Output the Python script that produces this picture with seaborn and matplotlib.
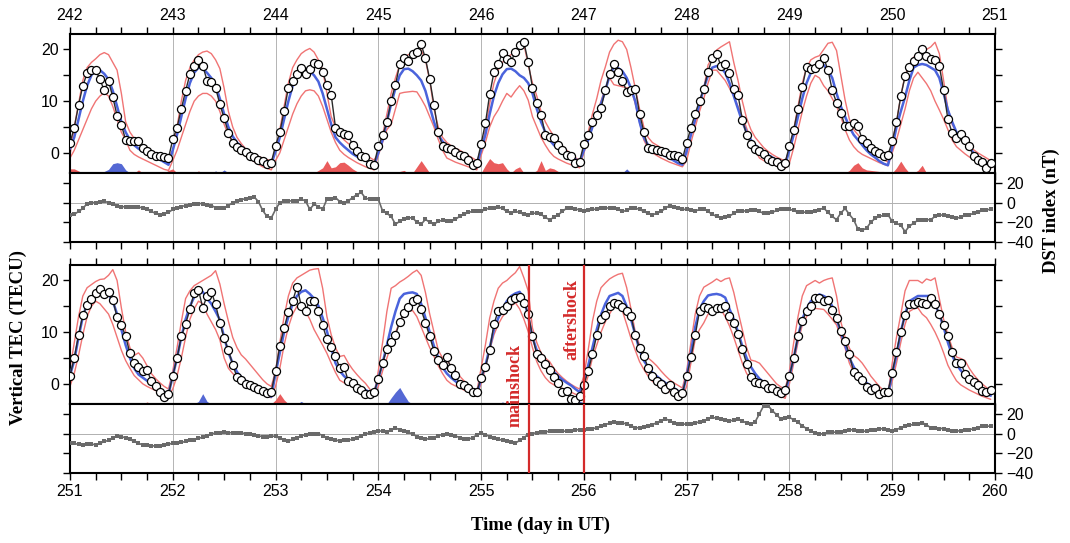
import numpy as np
import pandas as pd
import matplotlib
matplotlib.use("Agg")
import matplotlib.pyplot as plt
import seaborn as sns
from matplotlib.ticker import MultipleLocator

sns.set_theme(style="ticks")
plt.rcParams["font.family"] = ["Liberation Sans", "DejaVu Sans"]
plt.rcParams.update({"text.color": "black", "axes.labelcolor": "black",
                     "xtick.color": "black", "ytick.color": "black"})

hours = list(range(24))
top_days = list(range(242, 251))
bot_days = list(range(251, 260))

# vertical TEC (TECU), hourly, one row per day
top_obs = [
    1.9, 4.9, 9.2, 13.0, 15.4, 16.0, 16.0, 14.2, 12.1, 13.9, 10.8, 7.2, 5.4, 2.5, 2.2, 2.2, 2.2, 0.9, 0.3, -0.2, -0.6, -0.7, -0.8, -1.0,
    2.6, 4.9, 8.5, 12.0, 15.2, 16.8, 17.9, 16.9, 14.0, 13.7, 12.6, 9.4, 6.7, 3.9, 2.0, 1.2, 0.6, 0.1, -0.6, -0.8, -1.3, -1.5, -2.1, -1.9,
    1.4, 4.0, 8.1, 12.6, 13.9, 15.2, 16.5, 15.2, 16.3, 17.4, 17.2, 15.7, 13.1, 11.2, 4.9, 4.0, 3.7, 3.4, 1.5, 0.4, -0.6, -0.8, -2.2, -2.4,
    1.3, 3.4, 5.9, 10.1, 13.1, 17.2, 18.3, 17.8, 19.2, 19.6, 21.0, 18.3, 14.2, 9.3, 4.0, 1.3, 1.0, 0.8, 0.2, -0.4, -0.7, -1.3, -2.3, -2.0,
    1.7, 5.7, 11.3, 15.6, 17.2, 19.4, 18.2, 17.6, 19.6, 20.8, 21.4, 17.6, 12.6, 9.6, 7.4, 3.5, 3.0, 2.8, 1.5, 0.6, -0.4, -0.6, -2.0, -1.7,
    1.7, 3.5, 6.0, 7.3, 8.7, 12.1, 15.3, 17.1, 15.6, 14.0, 11.8, 12.2, 12.4, 7.6, 4.1, 0.9, 0.7, 0.6, 0.4, 0.1, -0.4, -0.5, -0.7, -1.2,
    1.9, 4.9, 7.6, 10.1, 12.4, 15.7, 18.4, 19.2, 16.8, 17.2, 15.4, 12.3, 11.2, 6.4, 3.5, 1.7, 0.8, 0.3, -0.3, -1.2, -1.5, -1.8, -2.6, -1.9,
    1.4, 4.5, 8.5, 12.7, 16.7, 16.2, 16.5, 17.2, 18.4, 16.0, 12.1, 9.7, 7.8, 5.1, 5.2, 5.8, 5.1, 2.6, 1.9, 0.9, 0.3, -0.1, -0.7, -0.4,
    2.2, 5.9, 11.0, 14.8, 16.7, 17.8, 18.7, 20.1, 18.7, 18.2, 17.9, 16.8, 12.1, 6.5, 3.8, 2.8, 3.7, 2.5, 1.3, -0.7, -1.3, -1.7, -2.9, -2.0,
]
top_med = [
    0.8, 3.0, 6.5, 10.0, 13.0, 15.0, 16.2, 16.0, 15.3, 14.2, 12.0, 9.0, 6.0, 4.0, 2.5, 1.5, 0.8, 0.3, -0.2, -0.5, -0.9, -1.3, -1.8, -2.3,
    0.5, 3.5, 7.0, 10.5, 13.5, 15.5, 16.5, 16.3, 15.5, 14.5, 13.0, 10.5, 7.5, 5.0, 3.2, 2.0, 1.2, 0.6, 0.0, -0.5, -1.0, -1.4, -1.8, -2.2,
    0.3, 3.0, 6.5, 10.0, 13.0, 15.0, 16.0, 16.3, 15.8, 15.0, 13.8, 11.5, 8.5, 5.5, 3.0, 2.0, 1.2, 0.5, -0.2, -0.7, -1.1, -1.5, -1.9, -2.3,
    0.0, 2.5, 6.0, 9.5, 12.5, 15.0, 16.2, 16.3, 15.8, 15.0, 14.0, 12.0, 9.0, 6.0, 3.5, 2.2, 1.4, 0.8, 0.2, -0.3, -0.8, -1.3, -1.8, -2.2,
    0.5, 3.5, 7.5, 11.0, 13.5, 15.2, 16.2, 16.3, 15.8, 15.0, 14.5, 13.5, 11.5, 8.5, 6.0, 4.0, 2.5, 1.5, 0.8, 0.2, -0.3, -0.7, -1.2, -1.8,
    0.5, 2.5, 5.0, 7.5, 9.5, 12.0, 15.0, 16.6, 16.4, 15.8, 14.5, 12.5, 10.0, 6.0, 3.0, 1.5, 0.8, 0.3, -0.2, -0.6, -1.0, -1.5, -2.0, -2.3,
    0.3, 3.5, 6.5, 9.5, 12.5, 15.0, 16.5, 16.8, 16.5, 15.5, 13.5, 11.0, 8.5, 6.0, 4.0, 2.5, 1.5, 0.8, 0.2, -0.4, -0.9, -1.4, -1.9, -2.3,
    0.5, 3.5, 7.0, 10.5, 13.5, 15.5, 16.8, 17.2, 17.0, 16.0, 14.5, 11.5, 9.0, 7.0, 5.0, 3.5, 2.5, 1.5, 0.5, -0.3, -0.9, -1.6, -2.1, -2.4,
    1.0, 5.0, 8.0, 10.8, 14.0, 16.5, 17.0, 17.2, 17.0, 16.5, 16.0, 14.5, 11.5, 8.3, 6.0, 4.0, 3.0, 2.0, 1.0, 0.0, -0.7, -1.4, -2.0, -2.6,
]
top_upper = [
    -0.5, 5.0, 9.5, 14.0, 16.5, 17.5, 18.2, 19.0, 19.4, 19.0, 17.5, 16.0, 11.5, 6.0, 4.0, 2.8, 2.0, 1.2, 0.8, 0.4, 0.0, -0.3, -0.6, -0.9,
    0.5, 5.0, 10.0, 14.0, 16.5, 18.0, 19.0, 19.5, 19.7, 19.2, 18.0, 16.3, 12.5, 8.0, 5.0, 3.0, 1.8, 0.8, 0.0, -0.4, -0.7, -1.0, -1.3, -1.5,
    0.0, 4.5, 9.0, 13.5, 16.5, 18.0, 19.2, 19.8, 20.2, 19.5, 18.0, 16.0, 11.5, 7.0, 5.0, 3.5, 2.5, 1.8, 1.2, 0.6, 0.1, -0.4, -0.9, -1.4,
    0.0, 3.5, 7.5, 11.5, 14.5, 17.0, 18.5, 19.0, 19.2, 19.5, 19.9, 18.0, 14.0, 8.5, 5.0, 3.0, 2.0, 1.4, 0.9, 0.5, 0.0, -0.5, -1.0, -1.5,
    0.0, 4.5, 9.5, 13.5, 16.0, 17.5, 18.5, 19.0, 19.5, 20.5, 21.0, 17.0, 13.5, 11.0, 8.0, 6.0, 4.5, 3.2, 2.2, 1.3, 0.5, -0.2, -0.9, -1.5,
    0.5, 4.0, 7.5, 10.5, 14.0, 16.6, 19.5, 21.0, 21.8, 21.5, 20.0, 16.5, 12.5, 8.5, 5.0, 3.0, 2.0, 1.5, 1.0, 0.5, 0.0, -0.5, -1.0, -1.5,
    0.5, 3.5, 6.0, 8.5, 12.5, 17.0, 18.5, 19.9, 20.5, 21.0, 21.5, 17.5, 14.0, 10.0, 6.7, 4.5, 3.0, 2.0, 1.0, 0.3, -0.3, -0.8, -1.2, -1.6,
    0.5, 4.5, 9.0, 13.5, 16.5, 18.0, 18.5, 18.8, 20.0, 21.2, 21.4, 19.8, 15.0, 10.2, 6.5, 4.5, 3.5, 2.5, 1.5, 0.8, 0.0, -0.7, -1.3, -1.8,
    2.2, 6.0, 11.0, 15.0, 17.0, 18.5, 19.0, 19.5, 20.0, 20.5, 21.4, 19.2, 14.0, 8.5, 5.5, 4.0, 3.0, 2.0, 1.2, 0.6, 0.0, -0.5, -1.0, -1.5,
]
top_lower = [
    -1.0, 0.5, 2.5, 4.5, 6.5, 8.5, 10.0, 11.0, 11.6, 11.0, 9.0, 6.5, 4.0, 2.5, 0.5, -0.3, -0.8, -1.2, -1.6, -2.0, -2.4, -2.8, -3.2, -3.4,
    -1.5, 0.5, 3.0, 5.5, 8.0, 10.0, 11.0, 11.5, 11.5, 11.0, 10.0, 8.0, 5.5, 3.5, 2.0, 0.8, 0.0, -0.6, -1.2, -1.7, -2.2, -2.7, -3.0, -3.3,
    -1.5, 0.0, 2.5, 5.0, 7.5, 9.5, 11.0, 12.0, 12.2, 12.0, 11.0, 9.0, 6.5, 4.0, 2.0, 0.5, -0.3, -0.9, -1.4, -1.9, -2.3, -2.7, -3.0, -3.3,
    -0.5, 2.0, 4.5, 5.5, 8.5, 11.5, 11.7, 11.8, 11.9, 11.8, 10.5, 9.0, 7.0, 5.0, 2.6, 0.5, -1.0, -1.4, -1.8, -2.1, -2.4, -2.7, -3.0, -3.3,
    -0.5, 2.0, 5.0, 7.0, 8.3, 10.0, 11.5, 10.8, 12.0, 13.0, 12.0, 10.2, 7.0, 5.0, 3.0, 1.5, 0.2, -0.7, -1.2, -1.6, -2.0, -2.3, -2.6, -2.9,
    0.0, 2.5, 5.0, 7.5, 10.0, 12.5, 14.5, 13.2, 13.0, 12.8, 12.6, 12.4, 9.5, 6.0, 2.5, 0.8, 0.0, -0.5, -1.0, -1.4, -1.8, -2.1, -2.4, -2.7,
    -1.5, 2.0, 5.0, 8.0, 10.5, 13.5, 16.0, 16.0, 15.0, 14.0, 12.5, 11.0, 9.0, 7.0, 4.8, 2.5, 0.5, -1.0, -1.5, -1.9, -2.2, -2.5, -2.8, -3.0,
    -2.0, 1.0, 4.5, 8.0, 11.0, 13.5, 15.0, 14.5, 13.0, 12.0, 10.5, 9.0, 7.0, 4.5, 2.5, 1.2, 0.3, -0.3, -0.7, -1.1, -1.5, -1.9, -2.2, -2.5,
    0.0, 2.5, 5.5, 8.5, 12.0, 14.5, 15.6, 14.5, 13.4, 12.0, 10.0, 8.3, 6.5, 4.5, 2.5, 1.2, 0.5, -0.2, -0.8, -1.3, -1.8, -2.3, -2.7, -3.0,
]

bot_obs = [
    1.6, 5.0, 9.4, 13.3, 15.2, 16.5, 17.6, 18.3, 17.3, 17.8, 16.3, 12.9, 11.4, 9.2, 5.9, 4.1, 3.3, 2.4, 2.7, 0.5, -0.5, -1.5, -2.6, -2.0,
    1.6, 5.0, 9.2, 11.6, 14.4, 17.6, 18.2, 14.7, 17.0, 17.8, 15.4, 11.8, 8.8, 6.5, 3.7, 1.3, 0.7, 0.0, -0.2, -0.6, -1.0, -1.3, -1.8, -1.5,
    2.4, 7.4, 10.8, 13.9, 16.0, 18.8, 15.1, 14.1, 16.1, 16.1, 14.1, 11.3, 8.6, 7.1, 5.4, 3.0, 3.3, 0.5, 0.1, -0.9, -1.2, -1.9, -1.9, -1.6,
    0.9, 4.1, 6.7, 8.0, 9.4, 12.0, 13.7, 14.8, 16.1, 16.5, 14.4, 11.8, 9.2, 6.3, 4.6, 3.7, 5.1, 3.0, 1.7, 0.0, -0.3, -0.8, -1.5, -1.5,
    1.1, 3.3, 6.5, 11.6, 14.1, 14.3, 15.0, 16.2, 16.7, 16.8, 15.7, 13.6, 9.2, 5.7, 5.0, 3.9, 2.6, 1.3, 0.2, -1.5, -1.3, -2.9, -3.1, -2.3,
    -0.2, 2.5, 5.7, 9.4, 12.6, 13.4, 15.0, 15.7, 15.4, 14.8, 14.1, 13.1, 9.4, 6.9, 5.4, 3.1, 1.6, 0.5, 0.0, -1.0, -0.3, -1.6, -2.3, -1.8,
    1.5, 5.1, 9.4, 14.1, 14.8, 14.6, 14.1, 14.6, 14.6, 15.1, 13.1, 11.8, 9.7, 6.7, 3.9, 1.4, 0.4, 0.1, -0.1, -0.8, -0.8, -1.4, -1.8, -1.1,
    1.6, 5.0, 9.2, 12.1, 14.1, 15.0, 16.7, 16.7, 16.0, 16.3, 14.2, 12.7, 10.3, 8.3, 5.7, 2.2, 1.5, 0.7, -0.6, -1.1, -0.8, -2.0, -1.6, -1.5,
    2.1, 6.2, 10.1, 13.3, 15.5, 15.5, 15.9, 15.7, 15.4, 16.7, 15.4, 13.5, 11.3, 9.2, 6.2, 4.1, 4.1, 2.0, 1.0, 0.3, -0.2, -1.3, -1.5, -1.1,
]
bot_med = [
    1.6, 4.5, 9.0, 13.0, 15.5, 16.8, 17.5, 18.0, 17.8, 17.3, 16.0, 13.5, 10.5, 7.5, 5.0, 3.0, 1.8, 1.2, 0.6, 0.1, -0.5, -1.0, -1.6, -2.0,
    1.5, 5.0, 9.0, 12.5, 15.0, 16.8, 18.0, 17.8, 16.5, 15.5, 14.0, 12.4, 9.0, 6.0, 4.0, 2.3, 1.3, 0.6, 0.0, -0.5, -0.9, -1.5, -2.2, -2.5,
    2.0, 6.0, 10.0, 13.0, 15.5, 17.0, 17.8, 18.1, 17.4, 16.5, 15.1, 12.8, 10.2, 7.0, 4.0, 2.5, 1.5, 0.8, 0.2, -0.3, -0.7, -1.2, -1.6, -1.9,
    1.0, 4.0, 7.5, 11.0, 14.0, 16.5, 17.4, 17.6, 17.7, 17.4, 15.5, 12.8, 10.0, 7.3, 5.0, 3.2, 2.0, 1.2, 0.5, -0.1, -0.6, -1.1, -1.6, -2.0,
    1.0, 3.5, 7.0, 10.5, 12.7, 14.5, 16.0, 17.0, 17.5, 17.8, 16.5, 13.0, 9.0, 6.5, 5.0, 4.0, 3.0, 2.3, 1.5, 0.8, 0.2, -0.3, -1.0, -1.6,
    0.5, 3.5, 7.0, 10.5, 13.4, 15.5, 17.0, 17.3, 17.6, 17.0, 15.0, 12.5, 9.5, 6.5, 4.5, 3.2, 2.2, 1.5, 0.8, 0.2, -0.3, -0.8, -1.4, -1.9,
    1.5, 6.0, 11.0, 14.4, 16.0, 17.1, 17.3, 17.4, 17.2, 16.7, 14.5, 12.5, 10.0, 7.3, 5.0, 3.3, 2.0, 1.0, 0.3, -0.3, -0.8, -1.3, -1.7, -2.0,
    1.5, 5.0, 9.2, 12.5, 14.5, 16.0, 16.8, 17.3, 17.0, 16.5, 15.0, 12.5, 10.0, 7.5, 5.0, 3.3, 2.0, 1.0, 0.2, -0.4, -0.9, -1.4, -1.9, -2.3,
    2.0, 5.5, 10.0, 13.5, 16.0, 16.5, 17.0, 17.0, 17.0, 17.0, 15.5, 13.4, 11.0, 8.0, 5.5, 3.8, 2.6, 1.6, 0.8, 0.3, -0.5, -1.2, -1.8, -2.3,
]
bot_upper = [
    2.9, 8.0, 13.0, 17.0, 18.6, 19.2, 19.8, 20.2, 20.3, 21.0, 22.1, 20.0, 14.7, 10.0, 7.0, 5.5, 6.0, 5.0, 3.5, 2.0, 1.0, 0.2, -0.5, -1.0,
    2.5, 7.0, 12.0, 16.5, 18.0, 19.0, 19.5, 20.0, 20.5, 21.0, 21.9, 19.3, 15.5, 12.1, 9.0, 7.0, 5.6, 4.8, 3.8, 2.8, 1.8, 0.8, 0.0, -0.5,
    2.5, 8.0, 13.0, 17.0, 19.5, 20.5, 21.0, 21.5, 22.0, 22.2, 22.3, 18.5, 13.0, 9.5, 7.0, 5.3, 5.5, 4.0, 2.8, 1.8, 0.9, 0.1, -1.0, -2.0,
    2.5, 8.0, 14.0, 18.5, 19.0, 19.7, 20.2, 20.8, 21.5, 22.0, 21.0, 17.7, 13.5, 10.0, 6.5, 5.0, 4.5, 3.5, 2.5, 1.5, 0.6, -0.2, -0.9, -1.5,
    3.0, 7.5, 12.7, 16.0, 18.5, 19.5, 20.0, 20.8, 21.5, 22.7, 20.5, 18.0, 10.8, 8.0, 6.0, 5.0, 4.3, 3.0, 2.0, 1.2, 0.5, -0.1, -0.6, -1.0,
    1.5, 6.5, 12.1, 16.0, 18.6, 19.5, 20.3, 20.8, 21.2, 21.4, 18.6, 14.5, 10.0, 7.5, 6.0, 5.0, 4.3, 3.5, 2.5, 1.6, 0.8, 0.2, -0.3, -0.8,
    2.5, 8.0, 13.5, 17.0, 18.7, 19.2, 19.7, 20.3, 19.8, 20.3, 20.5, 17.7, 14.0, 10.5, 7.0, 4.6, 4.4, 4.0, 3.0, 2.0, 1.0, 0.0, -0.6, -1.0,
    2.5, 8.0, 13.0, 17.0, 19.0, 19.5, 20.0, 19.5, 20.0, 20.3, 20.5, 17.0, 12.0, 9.0, 6.9, 5.5, 4.9, 4.0, 2.8, 1.5, 0.5, -0.5, -1.3, -2.0,
    4.0, 9.0, 13.4, 18.0, 20.0, 20.0, 20.0, 19.5, 20.3, 20.0, 20.5, 16.5, 12.5, 9.5, 7.0, 5.2, 4.9, 4.5, 3.0, 1.8, 0.8, 0.0, -0.7, -1.3,
]
bot_lower = [
    -0.5, 2.0, 5.5, 9.5, 13.0, 15.0, 16.0, 15.5, 14.5, 13.5, 11.5, 9.0, 6.5, 4.5, 3.0, 1.6, 0.8, 0.0, -0.5, -0.9, -1.3, -1.6, -2.0, -2.4,
    -1.0, 1.5, 5.0, 9.0, 12.5, 14.5, 16.0, 15.5, 13.5, 12.0, 10.5, 8.5, 5.0, 3.0, 2.0, 1.2, 0.5, -0.3, -0.8, -1.2, -1.6, -2.0, -2.4, -2.7,
    -0.5, 3.0, 7.5, 11.0, 13.5, 15.0, 15.5, 14.0, 12.5, 10.5, 9.0, 7.5, 5.9, 4.0, 2.2, 0.7, 0.2, -0.2, -0.5, -0.8, -1.0, -1.2, -1.5, -1.8,
    -0.5, 2.5, 5.0, 7.5, 9.9, 12.0, 13.5, 14.0, 14.2, 13.0, 11.0, 9.0, 7.0, 5.3, 3.5, 2.0, 0.7, 0.0, -0.4, -0.8, -1.2, -1.6, -2.0, -2.4,
    0.0, 3.0, 6.5, 9.5, 11.5, 13.0, 14.0, 15.0, 15.7, 14.5, 12.5, 10.1, 7.0, 4.3, 2.5, 1.2, 0.3, -0.2, -0.6, -0.9, -1.2, -1.6, -2.0, -2.3,
    -1.0, 1.5, 5.0, 7.5, 10.0, 12.0, 13.5, 15.0, 14.8, 14.1, 11.5, 8.8, 6.5, 4.3, 2.8, 1.5, 0.5, -0.2, -0.7, -1.1, -1.5, -1.9, -2.3, -2.6,
    -0.5, 4.0, 8.6, 10.5, 11.8, 13.5, 14.1, 14.3, 14.4, 13.0, 11.2, 9.0, 6.5, 4.0, 2.0, 1.0, 0.5, 0.1, -0.4, -0.9, -1.4, -1.9, -2.4, -2.8,
    0.0, 4.0, 8.0, 11.4, 13.0, 14.4, 14.6, 14.5, 14.4, 13.5, 12.5, 11.4, 9.0, 6.9, 4.0, 2.2, 1.0, 0.2, -0.4, -0.9, -1.3, -1.6, -2.0, -2.4,
    0.5, 4.0, 8.0, 11.5, 14.0, 14.5, 14.7, 13.5, 12.8, 11.5, 10.0, 8.2, 6.0, 3.6, 2.0, 0.6, -0.2, -0.7, -1.2, -1.6, -2.0, -2.4, -2.7, -3.0,
]

# Dst index (nT), hourly
top_dst = [
    -13, -12, -9, -6, -1, 0, 0, 1, 1.3, 0, -1, -3, -4.4, -4, -4, -4, -4.5, -5.4, -7, -9, -11, -12.3, -11.5, -10,
    -7, -5, -4, -3, -2, -1.5, -1, -1, -2, -3, -5, -5.5, -5.5, -3, 0, 1.5, 3, 4, 5, 5.8, 1, -8, -14, -15.7,
    -7, 0, 1.5, 1.7, 1.7, 2, 3.4, 1.7, -6.8, -1.7, -4, -6.8, 3.4, 4, 5.1, 1, 0, 1.7, 5.1, 8, 10.3, 4.4, 3.4, 3.4,
    3.4, -8.5, -11, -14, -22, -19, -17, -15.5, -15.4, -20, -22, -17, -20, -22, -19, -18, -18.8, -19, -17, -14, -12, -10, -9, -9,
    -9, -7, -5.5, -5, -4.4, -6, -9, -10.6, -9, -10, -12, -12.3, -11, -10.6, -12, -15, -17.4, -15, -12.3, -9, -5.5, -6, -6.3, -7.5,
    -9, -8, -7, -6.5, -6, -5.5, -5.5, -6, -7, -9, -8, -6, -5.5, -7, -9, -11, -12.3, -11, -9, -6, -3, -4, -5, -7,
    -6.8, -7.5, -8.5, -7, -6.2, -9, -12, -14, -15.4, -14.5, -13.6, -11, -8.5, -8.5, -8.5, -8, -7.8, -9, -11, -10.5, -10, -8, -6.2, -6.5,
    -6.8, -8, -10, -9.5, -10, -10, -9, -7.2, -5.5, -10, -14, -17.4, -10.6, -6, -12, -17.4, -27, -28, -26, -20, -16, -14, -13, -12.3,
    -19, -21, -23, -29.4, -24, -20.8, -18, -17.4, -17.4, -17.4, -14, -12.3, -13, -14, -15, -15.7, -15, -13, -12.3, -11, -10, -8, -7.2, -7,
]
bot_dst = [
    -9.6, -10, -11, -11.3, -11, -10.7, -11.3, -10, -8, -7, -5, -2.1, -3, -4.4, -6, -8, -10, -11.3, -12, -12.3, -12.5, -13, -12, -11,
    -9.6, -9.2, -9, -8, -7, -6.2, -5, -3.5, -2, -0.5, 0.7, 1, 1.4, 1, 0.7, 0.7, 0.7, 0, -0.5, -1, -2, -3.4, -3, -2.7,
    -2.7, -5, -6.2, -7.5, -6, -4.4, -2.4, -1, -0.7, -0.5, 0, -2, -4.1, -5.5, -6.5, -7.5, -7, -6.5, -5.8, -4, -2, -0.7, 1, 2,
    2.7, 2.5, 2, 3.5, 5.5, 4, 2.7, 1.5, -0.7, -3, -5, -5.8, -5, -4.1, -2, -1, -0.7, -1.5, -2.5, -4, -5.5, -6, -4, -1.5,
    0.7, -1, -3, -4.4, -5.5, -7, -7.9, -8.5, -9.6, -7, -4, -1, 0, 1, 1.4, 1.8, 2.2, 2.4, 2.4, 2.4, 2.4, 3, 3.5, 4.1,
    4.1, 4.5, 4.8, 6, 7.5, 9, 10.5, 11.6, 11, 10.5, 10, 8, 6, 5.8, 6.5, 7.5, 9, 11, 13, 15.1, 13, 11, 9.9, 9.6,
    9.6, 9.6, 10.5, 12, 13, 15, 16.4, 15.5, 14.7, 14, 13, 13.5, 14.7, 13, 10.5, 9.6, 12, 20, 28.4, 28.4, 23.3, 19, 14.7, 15.5,
    16.4, 14, 11.3, 8, 5, 2.4, 0.5, -0.5, 0, 1.4, 1.4, 1.4, 2, 3.1, 3.5, 4.1, 3, 2.4, 2.4, 3.5, 4.1, 4.5, 5.1, 4,
    2.4, 4, 6, 7.5, 8.5, 9.2, 10, 11, 9, 5.8, 5.5, 5.1, 5.1, 4, 3, 2.4, 3, 3.4, 4, 4.8, 6, 7.5, 7.5, 7.5,
]

# anomalies (TECU) above the upper bound (red) / below the lower bound (blue): (day, hour): size
top_pos = {(242, 0): 0.8, (242, 1): 0.8, (242, 2): 0.4, (242, 16): 0.6, (242, 23): 0.5, (243, 0): 0.8,
           (243, 6): 0.4, (244, 10): 0.5, (244, 11): 1.0, (244, 12): 2.4, (244, 13): 1.0, (244, 14): 1.2,
           (244, 15): 2.0, (244, 16): 2.1, (244, 17): 1.5, (244, 18): 0.8, (244, 19): 0.3, (245, 5): 0.3,
           (245, 6): 0.5, (245, 9): 1.2, (245, 10): 2.4, (245, 11): 1.2, (246, 1): 1.5, (246, 2): 2.8,
           (246, 3): 2.0, (246, 4): 1.8, (246, 5): 2.0, (246, 6): 0.8, (246, 8): 0.8, (246, 9): 1.2,
           (246, 13): 0.5, (246, 14): 2.4, (246, 15): 0.5, (246, 16): 1.0, (246, 17): 0.8, (246, 18): 0.3,
           (249, 14): 0.5, (249, 15): 1.5, (249, 16): 2.0, (249, 17): 1.0, (249, 18): 0.6, (249, 19): 0.5,
           (249, 20): 0.4, (249, 21): 0.3, (249, 22): 0.3, (250, 1): 1.0, (250, 2): 2.3, (250, 3): 1.0,
           (250, 6): 0.5, (250, 7): 1.5}
top_neg = {(242, 8): 0.3, (242, 9): 0.7, (242, 10): 1.8, (242, 11): 2.0, (242, 12): 1.8, (242, 13): 0.6,
           (243, 10): 0.4, (243, 12): 0.6, (247, 10): 0.8}
bot_pos = {(251, 18): 0.4, (253, 0): 0.8, (253, 1): 2.0, (253, 2): 0.8}
bot_neg = {(252, 6): 0.5, (252, 7): 2.0, (252, 8): 0.5, (253, 6): 0.5, (254, 3): 1.2, (254, 4): 2.3,
           (254, 5): 3.2, (254, 6): 1.8, (254, 7): 0.5, (255, 5): 0.4, (255, 20): 0.3, (255, 21): 0.6,
           (255, 22): 0.6, (255, 23): 0.5, (256, 0): 0.3}

mainshock_t = 255.47
aftershock_t = 256.0

TEC_LIM = (-3.9, 23.0)
DST_LIM = (-40, 30)
C_OBS = "#2a2a2a"
C_MED = "#4a63dc"
C_BND = "#f07474"
C_POS = "#ea5c5c"
C_NEG = "#5468d4"
C_DST = "#6a6a6a"
C_QUAKE = "#d42a2a"
SERIF = ["Liberation Serif", "DejaVu Serif"]


def times(days):
    return np.array([d + h / 24 for d in days for h in hours])


def spread(events, days):
    arr = np.zeros(len(days) * 24)
    for (d, h), v in events.items():
        arr[(d - days[0]) * 24 + h] = v
    return arr


def style_axes(ax, days):
    ax.set_xlim(days[0], days[-1] + 1)
    ax.xaxis.set_major_locator(MultipleLocator(1))
    ax.xaxis.set_minor_locator(MultipleLocator(0.25))
    ax.grid(axis="x", which="major", color="#a8a8a8", lw=0.6)
    ax.grid(axis="y", visible=False)
    ax.tick_params(which="both", direction="out", length=5, width=1, color="black",
                   labelcolor="black", labelsize=11.5, pad=3)
    for s in ax.spines.values():
        s.set_linewidth(1.5)
        s.set_color("black")
    ax.set_xlabel("")
    ax.set_ylabel("")


def tec_panel(ax, days, obs, med, upper, lower, pos, neg, label_top):
    t = times(days)
    df = pd.DataFrame({"t": t, "obs": obs, "med": med, "upper": upper, "lower": lower})
    base = TEC_LIM[0]
    ax.fill_between(t, base, base + spread(pos, days), color=C_POS, lw=0, zorder=1)
    ax.fill_between(t, base, base + spread(neg, days), color=C_NEG, lw=0, zorder=1)
    sns.lineplot(data=df, x="t", y="upper", color=C_BND, lw=1.0, ax=ax, zorder=2)
    sns.lineplot(data=df, x="t", y="lower", color=C_BND, lw=1.0, ax=ax, zorder=2)
    sns.lineplot(data=df, x="t", y="med", color=C_MED, lw=1.8, ax=ax, zorder=3)
    sns.lineplot(data=df, x="t", y="obs", color=C_OBS, lw=1.0, marker="o", markersize=5.8,
                 markerfacecolor="white", markeredgecolor="black", markeredgewidth=0.9,
                 ax=ax, zorder=4)
    ax.set_ylim(*TEC_LIM)
    ax.yaxis.set_major_locator(MultipleLocator(10))
    ax.yaxis.set_minor_locator(MultipleLocator(5))
    style_axes(ax, days)
    ax.tick_params(axis="x", which="both", top=True, bottom=True,
                   labeltop=label_top, labelbottom=False)
    ax.tick_params(axis="y", which="both", left=True, right=True,
                   labelleft=True, labelright=False)


def dst_panel(ax, days, dst, label_bottom):
    df = pd.DataFrame({"t": times(days), "dst": dst})
    ax.axhline(0, color="#b0b0b0", lw=0.7, zorder=1)
    sns.lineplot(data=df, x="t", y="dst", color=C_DST, lw=1.2, marker="s", markersize=2.6,
                 markeredgewidth=0, ax=ax, zorder=3)
    ax.set_ylim(*DST_LIM)
    ax.yaxis.set_major_locator(MultipleLocator(20))
    style_axes(ax, days)
    ax.tick_params(axis="x", which="both", top=False, bottom=True,
                   labeltop=False, labelbottom=label_bottom)
    ax.tick_params(axis="y", which="both", left=True, right=True,
                   labelleft=False, labelright=True)


fig = plt.figure(figsize=(10.7, 5.43), dpi=100)
L, W = 0.0654, 0.8645
ax_tt = fig.add_axes([L, 0.6814, W, 0.2560])
ax_td = fig.add_axes([L, 0.5543, W, 0.1271])
ax_bt = fig.add_axes([L, 0.2560, W, 0.2560])
ax_bd = fig.add_axes([L, 0.1289, W, 0.1271])

tec_panel(ax_tt, top_days, top_obs, top_med, top_upper, top_lower, top_pos, top_neg, True)
dst_panel(ax_td, top_days, top_dst, False)
tec_panel(ax_bt, bot_days, bot_obs, bot_med, bot_upper, bot_lower, bot_pos, bot_neg, False)
dst_panel(ax_bd, bot_days, bot_dst, True)

for ax in (ax_bt, ax_bd):
    for q in (mainshock_t, aftershock_t):
        ax.axvline(q, color=C_QUAKE, lw=1.6, zorder=5)

# labels of the quakes run across both lower panels, so draw them at figure level
fig.text(mainshock_t - 0.14, -0.4, "mainshock", transform=ax_bt.transData, rotation=90,
         color=C_QUAKE, ha="center", va="center", family=SERIF, weight="bold", size=13)
fig.text(aftershock_t - 0.12, 12.4, "aftershock", transform=ax_bt.transData, rotation=90,
         color=C_QUAKE, ha="center", va="center", family=SERIF, weight="bold", size=13)

fig.text(0.017, 0.379, "Vertical TEC (TECU)", rotation=90, ha="center", va="center",
         family=SERIF, weight="bold", size=13.5)
fig.text(0.983, 0.613, "DST index (nT)", rotation=90, ha="center", va="center",
         family=SERIF, weight="bold", size=13.5)
fig.text(0.505, 0.033, "Time (day in UT)", ha="center", va="center",
         family=SERIF, weight="bold", size=13.5)

fig.savefig("out.png", dpi=100)
